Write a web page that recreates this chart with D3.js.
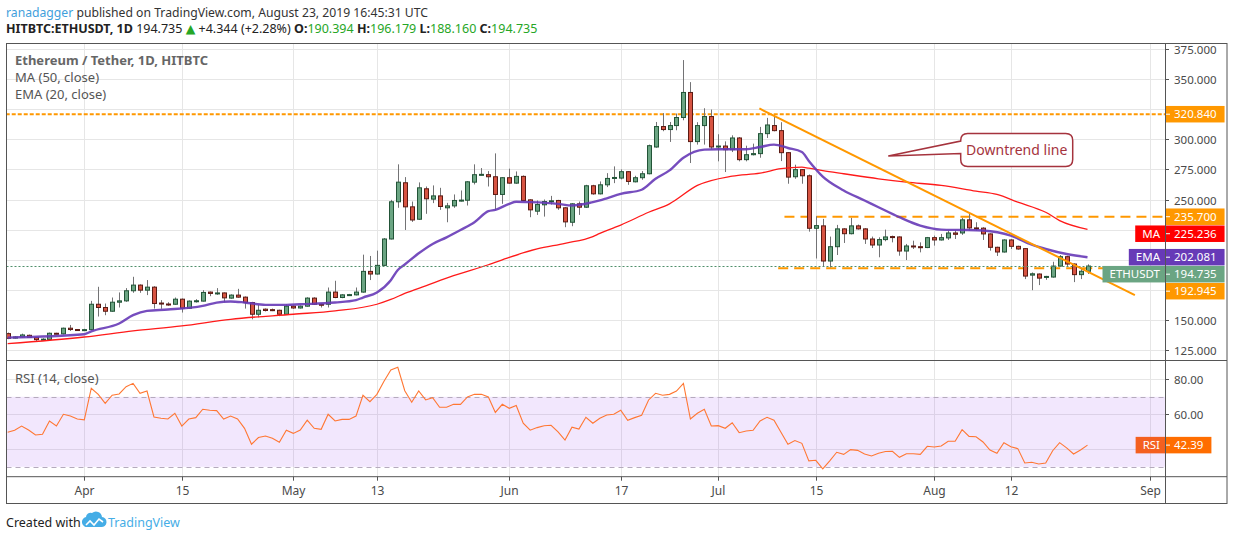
<!DOCTYPE html>
<html>
<head>
<meta charset="utf-8">
<script src="https://cdn.jsdelivr.net/npm/d3@7"></script>
<style>
  body { margin: 0; background: #fff; }
  text { font-family: "Noto Sans", "DejaVu Sans", sans-serif; }
</style>
</head>
<body>
<svg id="chart"></svg>
<script>
// ETH/USDT daily candles (HITBTC).
// index 0 = 2019-03-21, one value per day
var startDate = "2019-03-21";

var opens = [
  138.6, 134.9, 135.8, 137.2, 135.3, 133.7, 133.8, 138.9, 138.4, 143.1,
  142.0, 141.6, 141.9, 163.0, 160.3, 157.2, 164.7, 165.8, 174.2, 178.9,
  174.7, 177.2, 164.0, 163.2, 163.0, 167.2, 159.7, 165.6, 165.6, 173.1,
  172.0, 172.4, 168.1, 170.6, 168.9, 164.4, 154.7, 158.9, 158.5, 158.0,
  154.7, 161.4, 159.9, 161.4, 168.1, 163.0, 163.0, 173.1, 168.6, 170.8,
  170.8, 173.1, 190.3, 188.1, 195.3, 217.2, 248.1, 263.9, 243.9, 233.6,
  258.9, 250.3, 253.0, 243.1, 244.7, 248.9, 249.4, 264.4, 270.6, 270.6,
  268.9, 254.2, 268.1, 263.6, 269.2, 249.7, 240.3, 245.6, 248.1, 249.2,
  243.1, 231.1, 246.4, 243.6, 261.4, 254.7, 262.2, 267.5, 267.8, 273.1,
  264.7, 268.1, 271.4, 293.6, 310.6, 308.1, 311.4, 318.1, 338.9, 298.1,
  311.4, 318.9, 293.8, 294.4, 291.4, 301.1, 283.1, 287.2, 288.1, 304.7,
  311.4, 307.2, 288.9, 268.9, 274.8, 269.7, 226.1, 228.1, 198.9, 210.8,
  225.6, 221.6, 228.1, 225.6, 217.2, 212.2, 216.7, 219.2, 218.9, 207.2,
  211.4, 210.8, 210.1, 218.3, 216.4, 218.1, 222.2, 222.2, 233.1, 226.4,
  226.2, 221.4, 210.3, 206.4, 216.4, 211.1, 209.2, 187.2, 188.1, 185.3,
  185.6, 194.7, 202.5, 196.4, 187.6, 190.394
];
var highs = [
  139.5, 136.5, 138.6, 137.8, 135.8, 134.8, 139.5, 139.3, 143.6, 145.8,
  142.4, 142.6, 165.8, 177.5, 163.6, 168.6, 172.8, 176.4, 185.8, 179.5,
  183.1, 178.0, 166.4, 164.7, 168.6, 167.8, 166.2, 167.2, 174.7, 173.6,
  176.4, 172.8, 171.2, 175.8, 169.5, 165.0, 162.5, 159.5, 159.4, 158.5,
  163.0, 162.0, 162.0, 168.8, 168.8, 163.6, 176.9, 182.5, 171.4, 171.6,
  176.9, 204.2, 203.1, 207.5, 218.0, 249.7, 279.2, 268.6, 248.3, 264.2,
  260.8, 261.7, 259.7, 247.2, 254.2, 257.5, 265.3, 279.2, 276.1, 273.6,
  288.3, 268.6, 275.6, 273.3, 270.0, 250.2, 249.2, 250.0, 253.0, 249.7,
  243.6, 247.0, 248.3, 262.2, 262.2, 265.0, 271.9, 277.5, 275.0, 273.6,
  269.7, 273.6, 295.6, 314.4, 321.7, 314.4, 321.4, 365.8, 347.5, 314.2,
  325.8, 324.7, 304.2, 298.3, 303.3, 301.9, 294.7, 296.4, 310.3, 317.8,
  320.0, 314.2, 289.4, 278.9, 275.3, 270.8, 236.1, 233.9, 219.2, 228.9,
  226.2, 234.7, 229.2, 226.2, 219.2, 218.6, 225.0, 220.0, 219.4, 213.1,
  215.8, 214.4, 218.9, 220.0, 221.4, 224.2, 224.2, 234.7, 238.6, 231.1,
  227.0, 221.9, 210.8, 217.0, 217.0, 211.6, 209.7, 189.4, 188.6, 186.6,
  198.3, 203.9, 203.3, 196.9, 193.6, 196.179
];
var lows = [
  134.0, 134.5, 135.3, 135.0, 132.0, 133.2, 133.4, 138.0, 137.9, 140.8,
  141.0, 140.9, 141.4, 152.8, 153.9, 156.8, 160.3, 165.0, 172.5, 172.5,
  170.6, 159.4, 159.2, 161.7, 162.6, 156.1, 159.2, 164.4, 165.3, 169.7,
  170.8, 165.0, 167.6, 168.4, 159.4, 150.5, 152.1, 157.0, 157.3, 153.1,
  154.3, 159.2, 159.4, 161.0, 162.4, 160.3, 160.3, 168.0, 168.0, 170.2,
  170.3, 172.6, 183.1, 187.6, 195.0, 216.8, 243.1, 224.7, 231.4, 233.0,
  238.1, 247.0, 241.4, 231.1, 243.1, 248.3, 245.0, 262.5, 270.0, 260.8,
  241.4, 246.4, 263.1, 263.0, 248.6, 235.3, 237.2, 235.8, 245.8, 241.4,
  227.0, 227.8, 237.2, 243.0, 254.0, 254.2, 260.3, 263.6, 266.7, 262.2,
  264.2, 266.4, 270.9, 293.0, 306.7, 297.8, 307.5, 315.8, 280.3, 295.6,
  295.6, 291.7, 281.7, 272.8, 289.4, 281.7, 281.7, 286.6, 284.7, 301.1,
  306.6, 281.9, 263.1, 267.2, 263.1, 223.3, 201.0, 194.2, 193.6, 203.9,
  213.9, 221.0, 225.0, 213.1, 209.7, 202.0, 215.3, 214.4, 203.3, 199.7,
  208.9, 206.1, 209.6, 211.7, 215.9, 216.4, 217.2, 220.6, 224.2, 224.2,
  216.4, 207.5, 203.1, 205.9, 208.9, 208.3, 183.9, 174.7, 178.9, 183.3,
  185.1, 194.2, 194.7, 181.4, 183.9, 188.160
];
var closes = [
  134.7, 135.8, 137.5, 135.5, 133.6, 134.0, 138.9, 138.4, 143.1, 142.0,
  141.6, 141.9, 163.0, 160.3, 157.2, 164.7, 165.8, 174.2, 178.9, 174.7,
  177.2, 163.6, 163.2, 163.0, 167.2, 159.7, 165.6, 165.9, 172.8, 172.0,
  172.4, 168.3, 170.6, 168.9, 164.4, 154.7, 158.0, 157.8, 157.9, 154.7,
  161.4, 159.9, 161.4, 168.1, 163.0, 162.8, 173.1, 168.6, 170.8, 171.0,
  173.1, 190.3, 188.1, 195.3, 217.2, 248.1, 264.4, 243.9, 233.0, 259.7,
  250.6, 253.0, 244.2, 244.7, 249.2, 249.5, 264.7, 270.6, 270.9, 268.9,
  254.2, 268.1, 263.6, 269.2, 249.2, 241.4, 245.8, 248.3, 248.9, 243.1,
  231.4, 246.4, 243.6, 261.4, 254.7, 262.2, 267.5, 268.3, 273.1, 265.0,
  268.1, 271.4, 294.7, 310.6, 308.1, 311.4, 318.1, 338.9, 298.1, 311.4,
  318.9, 293.6, 294.4, 291.4, 301.1, 283.1, 287.2, 288.1, 304.7, 311.9,
  307.2, 288.9, 268.6, 274.8, 269.7, 226.1, 228.3, 198.9, 210.8, 225.6,
  221.6, 228.1, 225.6, 217.2, 212.2, 216.7, 218.9, 218.7, 207.2, 211.4,
  210.8, 210.1, 218.3, 216.4, 218.3, 222.2, 221.1, 233.1, 226.4, 225.9,
  221.4, 210.3, 206.4, 216.4, 211.1, 208.9, 186.4, 188.3, 184.7, 186.1,
  194.7, 202.5, 196.4, 187.6, 190.391, 194.735
];

// RSI (14, close), one value per day
var rsiVals = [
  49.7, 50.9, 53.3, 51.0, 48.2, 48.6, 56.2, 53.3, 60.0, 59.0,
  57.3, 56.8, 74.9, 71.4, 66.3, 70.9, 71.6, 75.8, 77.7, 72.0,
  73.3, 58.5, 57.7, 57.3, 60.6, 53.3, 57.3, 58.1, 62.9, 62.3,
  62.1, 57.3, 59.0, 57.3, 52.0, 42.9, 46.7, 47.6, 46.3, 44.0,
  50.9, 49.1, 51.0, 56.6, 52.0, 51.4, 60.0, 56.2, 57.1, 57.1,
  59.0, 70.9, 67.2, 71.4, 78.7, 85.3, 86.9, 73.5, 66.9, 73.3,
  68.2, 69.5, 64.0, 64.0, 65.7, 65.7, 69.9, 71.4, 71.4, 69.9,
  61.1, 65.7, 63.4, 65.0, 54.9, 50.9, 52.4, 53.5, 53.7, 50.0,
  45.3, 52.6, 51.6, 58.3, 54.9, 57.7, 59.6, 60.0, 62.3, 56.6,
  58.1, 59.4, 68.2, 72.0, 70.9, 71.4, 73.3, 77.7, 57.3, 60.6,
  62.9, 53.3, 53.5, 52.0, 55.2, 49.5, 50.5, 50.9, 56.2, 58.3,
  56.6, 49.7, 42.9, 45.0, 43.4, 33.4, 33.7, 28.8, 33.4, 38.3,
  37.1, 39.8, 39.4, 37.3, 36.2, 37.7, 38.7, 38.9, 35.4, 37.5,
  37.5, 37.1, 41.7, 41.3, 41.9, 44.6, 44.6, 51.2, 47.4, 47.2,
  44.2, 39.6, 37.7, 43.8, 41.5, 40.4, 32.2, 32.6, 31.6, 32.2,
  39.2, 43.8, 40.8, 37.3, 39.6, 42.39
];

// EMA (20) and MA (50) read at sample days (same day index as above)
var emaIdx = [0, 11, 12, 16, 18, 20, 23, 28, 30, 32, 34, 37, 40, 42, 47, 50, 51, 53, 55, 56,
  57, 59, 61, 63, 65, 67, 69, 70, 72, 73, 75, 79, 81, 84, 85, 86, 88, 91, 93, 95,
  97, 100, 102, 106, 108, 110, 112, 114, 115, 117, 120, 123, 125, 128, 131, 134, 137, 140, 144, 147,
  149, 152, 155];
var emaVal = [135.3, 138.1, 140.5, 147.0, 153.9, 157.5, 158.6, 161.7, 164.4, 165.3, 164.5, 162.5, 162.5, 163.0, 164.4, 166.4, 168.6, 172.8, 183.0, 191.5,
  196.0, 205.3, 213.1, 218.6, 224.7, 231.1, 240.3, 241.4, 246.4, 248.1, 247.8, 246.4, 245.0, 247.8, 249.2, 251.0, 254.7, 258.1, 267.2, 274.2,
  284.7, 291.4, 291.7, 291.7, 293.6, 295.6, 292.8, 289.4, 282.0, 269.0, 257.5, 249.2, 243.6, 235.3, 228.3, 225.0, 224.7, 224.2, 220.0, 212.5,
  208.9, 204.7, 202.081];
var maIdx = [0, 11, 18, 25, 32, 41, 47, 53, 55, 57, 60, 64, 69, 72, 76, 80, 84, 85, 87, 88,
  92, 95, 99, 104, 108, 111, 114, 115, 117, 120, 125, 129, 134, 139, 142, 145, 149, 151, 155];
var maVal = [130.3, 135.8, 140.8, 145.0, 150.5, 154.7, 157.5, 163.0, 167.0, 172.0, 178.3, 186.7, 195.8, 201.9, 208.9, 213.6, 219.2, 221.9, 226.5, 228.8,
  239.4, 246.4, 261.7, 269.4, 271.9, 275.6, 276.9, 276.0, 274.0, 271.4, 267.2, 264.4, 261.7, 256.9, 254.2, 247.8, 239.4, 232.5, 225.236];

// drawings: horizontal levels (value + first day index), downtrend line, callout
var levelVals = [320.84, 235.7, 192.945];
var levelFrom = [-2, 111.5, 110.6];
var trendIdx = [107.9, 161.8];
var trendVal = [325.6, 170.6];
var calloutIdx = [126.4, 136.8];   // tail tip, box corner
var calloutVal = [286.1, 304.75];
var calloutText = "Downtrend line";

// axes
var priceTicks = [125, 150, 175, 200, 225, 250, 275, 300, 325, 350, 375];
var rsiTicks = [40, 60, 80];
var rsiBand = [30, 70];
var timeTicks = ["2019-04-01", "2019-04-15", "2019-05-01", "2019-05-13", "2019-06-01", "2019-06-17",
  "2019-07-01", "2019-07-15", "2019-08-01", "2019-08-12", "2019-09-01"];
var timeLabels = ["Apr", "15", "May", "13", "Jun", "17", "Jul", "15", "Aug", "12", "Sep"];

// ---------------------------------------------------------------
var W = 1234, H = 540;
var fl = 6.5, fr = 1227, ft = 43, fb = 503;   // frame
var axisX = 1165, split = 360, timeTop = 476.7;
var frameCol = "#555", gridCol = "#e6e6e6", axisText = "#4a4a4a";

var svg = d3.select("#chart").attr("width", W).attr("height", H);
svg.append("rect").attr("width", W).attr("height", H).attr("fill", "#fff");

var parseDay = d3.utcParse("%Y-%m-%d");
var t0 = parseDay(startDate);
function dayAt(i) { return new Date(t0.getTime() + i * 864e5); }

var x = d3.scaleUtc()
  .domain([parseDay("2019-04-01"), parseDay("2019-09-01")])
  .range([84.3, 1150.2]);
var y = d3.scaleLinear().domain([125, 375]).range([350, 49]);
var yr = d3.scaleLinear().domain([40, 80]).range([449.3, 379.3]);

var candles = closes.map(function(c, i) {
  return {date: dayAt(i), o: opens[i], h: highs[i], l: lows[i], c: c};
});

var defs = svg.append("defs");
defs.append("clipPath").attr("id", "clipMain").append("rect")
  .attr("x", fl).attr("y", ft).attr("width", axisX - fl).attr("height", split - ft);
defs.append("clipPath").attr("id", "clipRsi").append("rect")
  .attr("x", fl).attr("y", split).attr("width", axisX - fl).attr("height", timeTop - split);

// ---------- main pane ----------
var main = svg.append("g").attr("clip-path", "url(#clipMain)");

main.selectAll(".hgrid").data(priceTicks).enter().append("line")
  .attr("x1", fl).attr("x2", axisX)
  .attr("y1", function(d) { return Math.round(y(d)) + 0.5; })
  .attr("y2", function(d) { return Math.round(y(d)) + 0.5; })
  .attr("stroke", gridCol);
main.selectAll(".vgrid").data(timeTicks).enter().append("line")
  .attr("x1", function(d) { return Math.round(x(parseDay(d))) + 0.5; })
  .attr("x2", function(d) { return Math.round(x(parseDay(d))) + 0.5; })
  .attr("y1", ft).attr("y2", split)
  .attr("stroke", gridCol);

// horizontal levels
var levelDash = ["4,2", "10,6", "10,6"];
levelVals.forEach(function(v, k) {
  main.append("line")
    .attr("x1", x(dayAt(levelFrom[k]))).attr("x2", axisX)
    .attr("y1", y(v)).attr("y2", y(v))
    .attr("stroke", "#ff9800").attr("stroke-width", 2)
    .attr("stroke-dasharray", levelDash[k]);
});

// candles
var cg = main.append("g");
cg.selectAll(".wick").data(candles).enter().append("line")
  .attr("x1", function(d) { return Math.round(x(d.date)) + 0.5; })
  .attr("x2", function(d) { return Math.round(x(d.date)) + 0.5; })
  .attr("y1", function(d) { return y(d.h); })
  .attr("y2", function(d) { return y(d.l); })
  .attr("stroke", "#737375");
cg.selectAll(".body").data(candles).enter().append("rect")
  .attr("x", function(d) { return Math.round(x(d.date)) - 1.5; })
  .attr("y", function(d) { return y(Math.max(d.o, d.c)); })
  .attr("width", 4)
  .attr("height", function(d) { return Math.max(1, Math.abs(y(d.o) - y(d.c))); })
  .attr("fill", function(d) { return d.c >= d.o ? "#6ba583" : "#d75442"; })
  .attr("stroke", function(d) { return d.c >= d.o ? "#225437" : "#5b1a13"; })
  .attr("stroke-width", 1);

// MA and EMA
var idxLine = d3.line()
  .x(function(d) { return x(dayAt(d[0])); })
  .y(function(d) { return y(d[1]); })
  .curve(d3.curveMonotoneX);
main.append("path").datum(d3.zip(maIdx, maVal)).attr("d", idxLine)
  .attr("fill", "none").attr("stroke", "#ff1a1a").attr("stroke-width", 1.3);
main.append("path").datum(d3.zip(emaIdx, emaVal)).attr("d", idxLine)
  .attr("fill", "none").attr("stroke", "#673ab7").attr("stroke-width", 2.4).attr("stroke-opacity", 0.9);

// current price line
var lastClose = closes[closes.length - 1];
main.append("line")
  .attr("x1", fl).attr("x2", axisX)
  .attr("y1", Math.round(y(lastClose)) + 0.5).attr("y2", Math.round(y(lastClose)) + 0.5)
  .attr("stroke", "#4f8f6a").attr("stroke-dasharray", "2,2");

// downtrend line
main.append("line")
  .attr("x1", x(dayAt(trendIdx[0]))).attr("y1", y(trendVal[0]))
  .attr("x2", x(dayAt(trendIdx[1]))).attr("y2", y(trendVal[1]))
  .attr("stroke", "#ff9800").attr("stroke-width", 2);

// callout
(function() {
  var ax = x(dayAt(calloutIdx[0])), ay = y(calloutVal[0]);
  var bx = x(dayAt(calloutIdx[1])), by = y(calloutVal[1]);
  var w = 112, h = 33, r = 7;
  var p = "M" + (bx + r) + "," + by + " H" + (bx + w - r) +
    " Q" + (bx + w) + "," + by + " " + (bx + w) + "," + (by + r) +
    " V" + (by + h - r) + " Q" + (bx + w) + "," + (by + h) + " " + (bx + w - r) + "," + (by + h) +
    " H" + (bx + r) + " Q" + bx + "," + (by + h) + " " + bx + "," + (by + h - r) +
    " V" + (by + 20) + " L" + ax + "," + ay + " L" + bx + "," + (by + 7.5) +
    " V" + (by + r) + " Q" + bx + "," + by + " " + (bx + r) + "," + by + " Z";
  main.append("path").attr("d", p)
    .attr("fill", "#fff").attr("stroke", "#a5333d").attr("stroke-width", 1.5);
  main.append("text").attr("x", bx + w / 2).attr("y", by + h / 2 + 5)
    .attr("text-anchor", "middle").style("font-size", "14px").attr("fill", "#a5333d")
    .text(calloutText);
})();

// legend
var leg = main.append("g").attr("fill", "#555").style("font-size", "13px");
leg.append("text").attr("x", 15).attr("y", 65).style("font-weight", "bold").attr("fill", "#666")
  .text("Ethereum / Tether, 1D, HITBTC");
leg.append("text").attr("x", 15).attr("y", 82).text("MA (50, close)");
leg.append("text").attr("x", 15).attr("y", 99).text("EMA (20, close)");

// ---------- RSI pane ----------
var rp = svg.append("g").attr("clip-path", "url(#clipRsi)");
rp.selectAll(".rgrid").data(rsiTicks).enter().append("line")
  .attr("x1", fl).attr("x2", axisX)
  .attr("y1", function(d) { return Math.round(yr(d)) + 0.5; })
  .attr("y2", function(d) { return Math.round(yr(d)) + 0.5; })
  .attr("stroke", gridCol);
rp.selectAll(".rvgrid").data(timeTicks).enter().append("line")
  .attr("x1", function(d) { return Math.round(x(parseDay(d))) + 0.5; })
  .attr("x2", function(d) { return Math.round(x(parseDay(d))) + 0.5; })
  .attr("y1", split).attr("y2", timeTop)
  .attr("stroke", gridCol);
rp.append("rect")
  .attr("x", fl).attr("width", axisX - fl)
  .attr("y", yr(rsiBand[1])).attr("height", yr(rsiBand[0]) - yr(rsiBand[1]))
  .attr("fill", "rgb(150,60,240)").attr("fill-opacity", 0.12);
rp.selectAll(".band").data(rsiBand).enter().append("line")
  .attr("x1", fl).attr("x2", axisX)
  .attr("y1", function(d) { return Math.round(yr(d)) + 0.5; })
  .attr("y2", function(d) { return Math.round(yr(d)) + 0.5; })
  .attr("stroke", "#b5aabd").attr("stroke-dasharray", "5,4");
rp.append("path").datum(rsiVals)
  .attr("d", d3.line()
    .x(function(d, i) { return x(dayAt(i)); })
    .y(function(d) { return yr(d); }))
  .attr("fill", "none").attr("stroke", "#ff7733").attr("stroke-width", 1.1);
rp.append("text").attr("x", 15).attr("y", 383).attr("fill", "#555").style("font-size", "13px")
  .text("RSI (14, close)");

// ---------- tag layout (price axis) ----------
var th = 16.5;
var tags = [
  {v: levelVals[0], color: "#ff9800"},
  {v: levelVals[1], color: "#ff9800"},
  {v: maVal[maVal.length - 1], color: "#ff0000", name: "MA"},
  {v: emaVal[emaVal.length - 1], color: "#673ab7", name: "EMA"},
  {v: lastClose, color: "#6ba583", name: "ETHUSDT"},
  {v: levelVals[2], color: "#ff9800"}
];
tags.sort(function(a, b) { return y(a.v) - y(b.v); });
var prevBottom = -1e9;
tags.forEach(function(t) {
  t.top = Math.max(y(t.v) - th / 2, prevBottom + 0.5);
  prevBottom = t.top + th;
});
var lastRsi = rsiVals[rsiVals.length - 1];
var rsiTagTop = yr(lastRsi) - th / 2;
var tagSpans = tags.map(function(t) { return [t.top, t.top + th]; }).concat([[rsiTagTop, rsiTagTop + th]]);
function hidden(yy) {
  // axis labels that sit under a tag are covered in the original
  return tagSpans.some(function(s) { return yy > s[0] - 5 && yy < s[1] + 5; });
}

// ---------- frame and axes ----------
var fr_g = svg.append("g").attr("stroke", frameCol).attr("fill", "none");
fr_g.append("rect").attr("x", fl).attr("y", ft + 0.5).attr("width", fr - fl).attr("height", fb - ft);
fr_g.append("line").attr("x1", axisX + 0.5).attr("x2", axisX + 0.5).attr("y1", ft).attr("y2", fb);
fr_g.append("line").attr("x1", fl).attr("x2", fr).attr("y1", split + 0.5).attr("y2", split + 0.5);
fr_g.append("line").attr("x1", fl).attr("x2", fr).attr("y1", timeTop).attr("y2", timeTop);

var pa = svg.append("g").style("font-size", "11.5px").attr("fill", axisText);
function axisLabel(yy, txt) {
  pa.append("line").attr("x1", axisX).attr("x2", axisX + 4).attr("y1", yy).attr("y2", yy).attr("stroke", frameCol);
  if (!hidden(yy)) pa.append("text").attr("x", axisX + 9).attr("y", yy + 4).text(txt);
}
priceTicks.forEach(function(v) { axisLabel(Math.round(y(v)) + 0.5, d3.format(".3f")(v)); });
rsiTicks.forEach(function(v) { axisLabel(Math.round(yr(v)) + 0.5, d3.format(".2f")(v)); });

var ta = svg.append("g").style("font-size", "12px").attr("fill", axisText);
timeTicks.forEach(function(d, k) {
  var xx = Math.round(x(parseDay(d))) + 0.5;
  ta.append("line").attr("x1", xx).attr("x2", xx).attr("y1", timeTop).attr("y2", timeTop + 4).attr("stroke", frameCol);
  ta.append("text").attr("x", xx).attr("y", 495).attr("text-anchor", "middle").text(timeLabels[k]);
});

// ---------- price tags ----------
function drawTag(g, top, color, valueText, name, nameColor) {
  var vt = g.append("text").attr("x", axisX + 9).attr("y", top + th / 2 + 4)
    .attr("fill", "#fff").style("font-size", "11.5px").text(valueText);
  var tw = vt.node().getComputedTextLength();
  g.insert("rect", "text").attr("x", axisX + 1).attr("y", top).attr("width", tw + 16).attr("height", th).attr("fill", color);
  g.append("line").attr("x1", axisX + 1).attr("x2", axisX + 5).attr("y1", top + th / 2).attr("y2", top + th / 2).attr("stroke", "#fff");
  if (name) {
    var nt = g.append("text").attr("y", top + th / 2 + 4).attr("fill", "#fff").style("font-size", "11.5px").text(name);
    var nw = nt.node().getComputedTextLength();
    nt.attr("x", axisX - 5 - nw);
    g.insert("rect", "text").attr("x", axisX - 12 - nw).attr("y", top).attr("width", nw + 12).attr("height", th).attr("fill", nameColor || color);
  }
}
tags.forEach(function(t) {
  drawTag(svg.append("g"), t.top, t.color, d3.format(".3f")(t.v), t.name);
});
drawTag(svg.append("g"), rsiTagTop, "#ff6d00", d3.format(".2f")(lastRsi), "RSI", "#f4601f");

// ---------- header ----------
var n = closes.length;
var chg = closes[n - 1] - closes[n - 2];
var f3 = d3.format(".3f");
var h1 = svg.append("text").attr("x", 6).attr("y", 17).style("font-size", "12.2px").attr("fill", "#333");
h1.append("tspan").attr("fill", "#3fa0dc").text("ranadagger");
h1.append("tspan").text(" published on TradingView.com, August 23, 2019 16:45:31 UTC");

var h2 = svg.append("text").attr("x", 6).attr("y", 33).style("font-size", "12.5px").attr("fill", "#222");
h2.append("tspan").style("font-weight", "bold").text("HITBTC:ETHUSDT, 1D");
h2.append("tspan").text("  " + f3(closes[n - 1]) + " ");
h2.append("tspan").attr("fill", "#26a626").text("\u25B2");
h2.append("tspan").text(" +" + f3(chg) + " (+" + d3.format(".2f")(chg / closes[n - 2] * 100) + "%) ");
var ohlc = [["O:", opens[n - 1]], ["H:", highs[n - 1]], ["L:", lows[n - 1]], ["C:", closes[n - 1]]];
ohlc.forEach(function(p, k) {
  h2.append("tspan").style("font-weight", "bold").text((k ? " " : "") + p[0]);
  h2.append("tspan").attr("fill", "#26a626").text(f3(p[1]));
});

// ---------- footer ----------
var ft_g = svg.append("g");
ft_g.append("text").attr("x", 6).attr("y", 527).style("font-size", "12.5px").attr("fill", "#222").text("Created with");
ft_g.append("path")
  .attr("d", "M88,527 h13 a5,5 0 0 0 1,-10 a6,6 0 0 0 -10,-4 a4.5,4.5 0 0 0 -6,4 a5,5 0 0 0 2,10 z")
  .attr("fill", "#45ade6");
ft_g.append("path").attr("d", "M86,525 l4,-4 l4,4 l5,-6 l4,3")
  .attr("fill", "none").attr("stroke", "#fff").attr("stroke-width", 1.6);
ft_g.append("text").attr("x", 108).attr("y", 527).style("font-size", "12.5px").attr("fill", "#45ade6").text("TradingView");
</script>
</body>
</html>
